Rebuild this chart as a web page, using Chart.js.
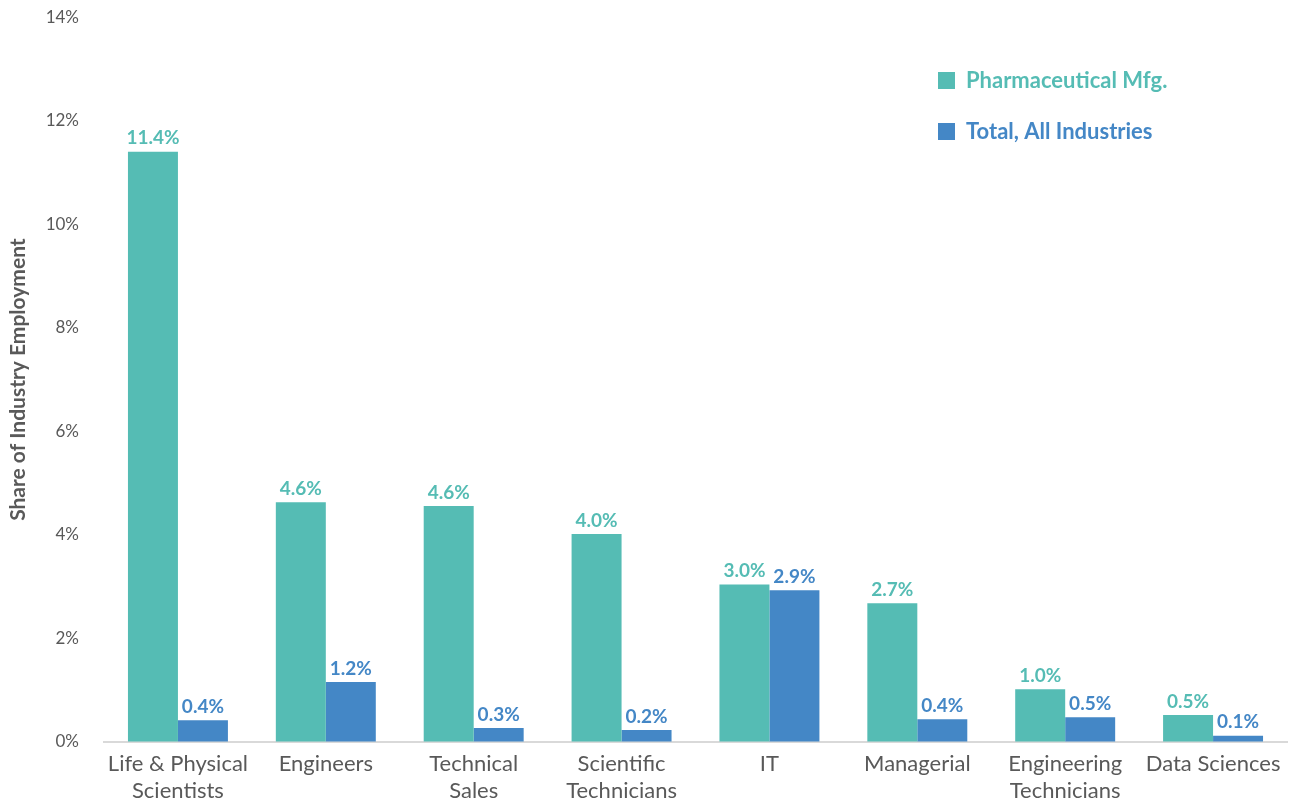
<!DOCTYPE html>
<html>
<head>
<meta charset="utf-8">
<script src="https://cdn.jsdelivr.net/npm/chart.js@4"></script>
<style>
  html, body { margin: 0; padding: 0; background: #fff; }
  #wrap { width: 1296px; height: 804px; }
</style>
</head>
<body>
<div id="wrap"><canvas id="shareChart"></canvas></div>
<script>
// occupations
const categories = [
  ['Life & Physical', 'Scientists'],
  'Engineers',
  ['Technical', 'Sales'],
  ['Scientific', 'Technicians'],
  'IT',
  'Managerial',
  ['Engineering', 'Technicians'],
  'Data Sciences',
];
// share of industry employment, %
const pharmaValues = [11.4, 4.63, 4.56, 4.02, 3.04, 2.68, 1.02, 0.52];
const allIndustryValues = [0.42, 1.16, 0.27, 0.23, 2.93, 0.44, 0.48, 0.12];
const seriesNames = ['Pharmaceutical Mfg.', 'Total, All Industries'];
const yTicks = [0, 2, 4, 6, 8, 10, 12, 14];

const TEAL = '#55bcb4';
const BLUE = '#4487c6';
const GREY = '#595959';
const FONT = 'Lato, "Open Sans", sans-serif';

// value labels above every bar
const barLabels = {
  id: 'barLabels',
  afterDatasetsDraw(chart) {
    const ctx = chart.ctx;
    ctx.save();
    ctx.font = 'bold 19px ' + FONT;
    ctx.textAlign = 'center';
    ctx.textBaseline = 'bottom';
    chart.data.datasets.forEach((ds, i) => {
      ctx.fillStyle = ds.backgroundColor;
      chart.getDatasetMeta(i).data.forEach((bar, j) => {
        ctx.fillText(ds.data[j].toFixed(1) + '%', bar.x, bar.y - 4);
      });
    });
    ctx.restore();
  },
};

// legend in the upper right corner
const cornerLegend = {
  id: 'cornerLegend',
  afterDraw(chart) {
    const ctx = chart.ctx;
    ctx.save();
    ctx.font = 'bold 22px ' + FONT;
    ctx.textBaseline = 'middle';
    chart.data.datasets.forEach((ds, i) => {
      const y = 81 + i * 51;
      ctx.fillStyle = ds.backgroundColor;
      ctx.fillRect(938, y - 9, 17, 17);
      ctx.fillText(ds.label, 966, y);
    });
    ctx.restore();
  },
};

const ctx = document.getElementById('shareChart').getContext('2d');
const shareChart = new Chart(ctx, {
  type: 'bar',
  data: {
    labels: categories,
    datasets: [
      {
        label: seriesNames[0],
        data: pharmaValues,
        backgroundColor: TEAL,
        categoryPercentage: 0.676,
        barPercentage: 1,
      },
      {
        label: seriesNames[1],
        data: allIndustryValues,
        backgroundColor: BLUE,
        categoryPercentage: 0.676,
        barPercentage: 1,
      },
    ],
  },
  options: {
    responsive: true,
    maintainAspectRatio: false,
    animation: false,
    layout: { padding: { top: 0, right: 9, left: 0, bottom: 0 } },
    plugins: {
      legend: { display: false },
      tooltip: { enabled: false },
    },
    scales: {
      x: {
        grid: { display: false },
        border: { display: true, color: '#d9d9d9', width: 2 },
        ticks: {
          color: GREY,
          font: { family: FONT, size: 22, lineHeight: 1.2 },
          padding: 1,
          maxRotation: 0,
          autoSkip: false,
        },
        afterFit(scale) { scale.height = 62; },
      },
      y: {
        min: 0,
        max: 14,
        afterBuildTicks(scale) {
          scale.ticks = yTicks.map(v => ({ value: v }));
        },
        // invisible tick marks keep the labels clear of the bars
        grid: {
          display: true,
          drawOnChartArea: false,
          drawTicks: true,
          tickLength: 18,
          color: 'rgba(0,0,0,0)',
        },
        border: { display: false },
        ticks: {
          color: GREY,
          font: { family: FONT, size: 17 },
          padding: 7,
          callback: v => v + '%',
        },
        title: {
          display: true,
          text: 'Share of Industry Employment',
          color: GREY,
          font: { family: FONT, size: 21, weight: 'bold' },
          padding: { top: 6, bottom: 0 },
        },
        afterFit(scale) { scale.width = 104; },
      },
    },
  },
  plugins: [barLabels, cornerLegend],
});
</script>
</body>
</html>
